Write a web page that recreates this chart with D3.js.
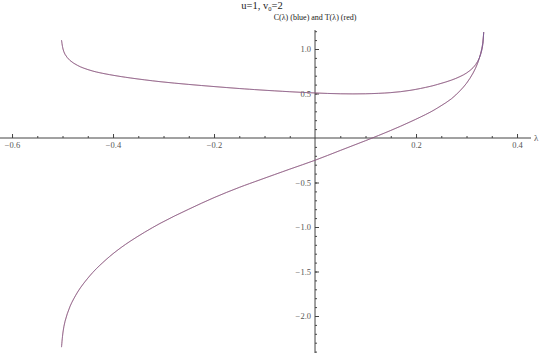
<!DOCTYPE html>
<html>
<head>
<meta charset="utf-8" />
<title>C and T</title>
<script src="https://d3js.org/d3.v7.min.js"></script>
<style>
  body { margin: 0; background: #fff; }
  text { font-family: "Liberation Serif", "DejaVu Serif", serif; }
</style>
</head>
<body>
<svg class="chart"></svg>
<script>
// values
const lambdas = [-0.502, -0.499, -0.495, -0.485, -0.47, -0.459, -0.44, -0.426, -0.4, -0.366,
  -0.307, -0.25, -0.2, -0.15, -0.109, -0.05, 0, 0.05, 0.1, 0.15, 0.188, 0.228, 0.2475,
  0.27, 0.287, 0.3, 0.313, 0.322, 0.328, 0.332, 0.334];
const cUpper = [1.10, 1.00, 0.94, 0.87, 0.815, 0.787, 0.752, 0.733, 0.705, 0.675,
  0.633, 0.602, 0.578, 0.556, 0.54, 0.52, 0.506, 0.497, 0.497, 0.51, 0.535, 0.58, 0.61,
  0.65, 0.69, 0.73, 0.79, 0.86, 0.94, 1.04, 1.19];
const cLower = [-2.35, -2.18, -2.06, -1.89, -1.73, -1.64, -1.51, -1.43, -1.30, -1.16,
  -0.96, -0.80, -0.67, -0.555, -0.47, -0.35, -0.25, -0.14, -0.03, 0.085, 0.18, 0.29, 0.355,
  0.44, 0.53, 0.615, 0.73, 0.84, 0.95, 1.06, 1.19];
// T(λ) lies on top of C(λ) in the picture
const tUpper = cUpper.slice();
const tLower = cLower.slice();
const xMajor = [-0.6, -0.4, -0.2, 0.2, 0.4];
const yMajor = [-2.0, -1.5, -1.0, -0.5, 0.5, 1.0];

const W = 540, H = 353;
const svg = d3.select("svg").attr("width", W).attr("height", H);

const x = d3.scaleLinear().domain([-0.6238, 0.4455]).range([0, W]);
const y = d3.scaleLinear().domain([-2.4157, 1.2135]).range([H, 30]);

const axisColor = "#444";
const fmt = d => d3.format(".1f")(d).replace("-", "\u2212");

// x axis
svg.append("line")
  .attr("x1", 0).attr("x2", 531)
  .attr("y1", y(0)).attr("y2", y(0))
  .attr("stroke", axisColor);

const xMinor = d3.range(-0.6, 0.4001, 0.05).filter(v => Math.abs(v) > 1e-6);
svg.append("g")
  .attr("transform", `translate(0,${y(0)})`)
  .call(d3.axisBottom(x).tickValues(xMinor).tickSize(-2).tickFormat(""))
  .call(g => g.select(".domain").remove())
  .call(g => g.selectAll("line").attr("stroke", axisColor));

svg.append("g")
  .attr("transform", `translate(0,${y(0)})`)
  .call(d3.axisBottom(x).tickValues(xMajor).tickSize(-4).tickPadding(4).tickFormat(fmt))
  .call(g => g.select(".domain").remove())
  .call(g => g.selectAll("line").attr("stroke", axisColor))
  .call(g => g.selectAll("text").attr("fill", "#555")
    .style("font-family", "Liberation Serif").style("font-size", "8.5px"));

svg.append("text")
  .attr("x", 534).attr("y", y(0) + 3)
  .attr("font-size", 9).attr("fill", "#555")
  .text("\u03bb");

// y axis
svg.append("line")
  .attr("x1", x(0)).attr("x2", x(0))
  .attr("y1", 30).attr("y2", H)
  .attr("stroke", axisColor);

const yMinor = d3.range(-2.4, 1.2001, 0.1).filter(v => Math.abs(v) > 1e-6);
svg.append("g")
  .attr("transform", `translate(${x(0)},0)`)
  .call(d3.axisLeft(y).tickValues(yMinor).tickSize(-2).tickFormat(""))
  .call(g => g.select(".domain").remove())
  .call(g => g.selectAll("line").attr("stroke", axisColor));

svg.append("g")
  .attr("transform", `translate(${x(0)},0)`)
  .call(d3.axisLeft(y).tickValues(yMajor).tickSize(-4).tickPadding(4).tickFormat(fmt))
  .call(g => g.select(".domain").remove())
  .call(g => g.selectAll("line").attr("stroke", axisColor))
  .call(g => g.selectAll("text").attr("fill", "#555")
    .style("font-family", "Liberation Serif").style("font-size", "8.5px"));

// curves: red T drawn first, blue C over it
const line = d3.line()
  .x(d => x(d[0]))
  .y(d => y(d[1]))
  .curve(d3.curveCatmullRom.alpha(0.5));

const series = [
  { vals: tUpper, color: "#b85a5a", op: 0.85 },
  { vals: tLower, color: "#b85a5a", op: 0.85 },
  { vals: cUpper, color: "#5a5ab0", op: 0.5 },
  { vals: cLower, color: "#5a5ab0", op: 0.5 }
];
series.forEach(s => {
  svg.append("path")
    .datum(lambdas.map((l, i) => [l, s.vals[i]]))
    .attr("d", line)
    .attr("fill", "none")
    .attr("stroke", s.color)
    .attr("stroke-opacity", s.op)
    .attr("stroke-width", 0.9);
});

// titles
const title = svg.append("text")
  .attr("x", 262).attr("y", 9)
  .attr("text-anchor", "middle")
  .attr("font-size", 10.5).attr("fill", "#222");
title.append("tspan").text("u=1, v");
title.append("tspan").attr("font-size", 6.5).attr("dy", 1.5).text("0");
title.append("tspan").attr("dy", -1.5).text("=2");

svg.append("text")
  .attr("x", x(0)).attr("y", 20)
  .attr("text-anchor", "middle")
  .attr("font-size", 8).attr("fill", "#222")
  .text("C(\u03bb) (blue) and T(\u03bb) (red)");
</script>
</body>
</html>
